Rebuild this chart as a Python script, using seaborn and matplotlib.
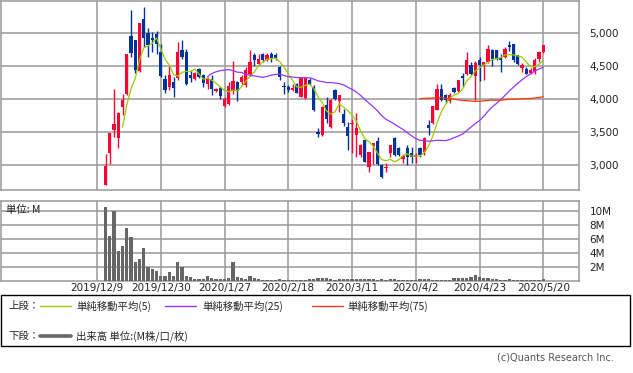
import numpy as np
import pandas as pd
import matplotlib
matplotlib.use("Agg")
import matplotlib.pyplot as plt
from matplotlib.patches import Rectangle
from matplotlib.lines import Line2D
import seaborn as sns

# ---------------- data ----------------
date_labels = ["2019/12/9", "2019/12/30", "2020/1/27", "2020/2/18",
               "2020/3/11", "2020/4/2", "2020/4/23", "2020/5/20"]
date_label_idx = [0, 15, 30, 45, 60, 75, 90, 105]
first_idx = 2  # first trading day (2019/12/11) index

opens = [2700, 3190, 3530, 3415, 3885, 4076, 4955, 4895, 4425, 5227,
         5010, 4935, 4985, 4717, 4303, 4187, 4263, 4328, 4753, 4717,
         4364, 4308, 4455, 4364, 4227, 4313, 4121, 4177, 3894, 3924,
         4121, 4263, 4263, 4212, 4389, 4667, 4540, 4682, 4601, 4682,
         4670, 4490, 4202, 4187, 4136, 4238, 4035, 4020, 4288, 4187,
         3505, 3455, 3915, 3580, 4136, 3975, 3773, 3580, 3621, 3455,
         3152, 3379, 2975, 3288, 3369, 3000, 2950, 3187, 3404, 3263,
         3086, 3252, 3187, 3127, 3252, 3202, 3616, 3641, 3844, 4162,
         4061, 3970, 4177, 4126, 4349, 4389, 4515, 4349, 4601, 4515,
         4566, 4742, 4753, 4632, 4641, 4829, 4843, 4667, 4480, 4465,
         4400, 4414, 4616, 4717]
highs = [3170, 3490, 4150, 3800, 4085, 4690, 5350, 4900, 5160, 5410,
         5085, 5020, 5045, 4845, 4365, 4500, 4340, 4870, 4905, 4760,
         4440, 4420, 4480, 4380, 4340, 4364, 4170, 4200, 4030, 4263,
         4580, 4280, 4370, 4490, 4742, 4710, 4690, 4700, 4700, 4720,
         4700, 4510, 4263, 4210, 4238, 4250, 4330, 4340, 4320, 4220,
         3556, 3900, 4030, 4000, 4150, 4070, 3850, 3656, 3707, 3788,
         3320, 3380, 3205, 3340, 3420, 3020, 3030, 3303, 3420, 3280,
         3170, 3300, 3280, 3190, 3280, 3430, 3682, 3900, 4238, 4238,
         4080, 4100, 4190, 4300, 4400, 4717, 4560, 4580, 4640, 4566,
         4830, 4770, 4753, 4690, 4790, 4890, 4843, 4680, 4550, 4490,
         4480, 4620, 4740, 4830]
lows = [2690, 3015, 3420, 3260, 3760, 4070, 4640, 4400, 4420, 4795,
        4640, 4715, 4690, 4340, 4095, 4135, 4035, 4288, 4615, 4215,
        4263, 4290, 4320, 4187, 4150, 4060, 4110, 4000, 3880, 3910,
        4086, 3970, 4210, 4190, 4350, 4500, 4520, 4560, 4580, 4560,
        4600, 4300, 4086, 4110, 4130, 4090, 4030, 4010, 4220, 3820,
        3430, 3440, 3640, 3570, 3990, 3800, 3600, 3227, 3177, 3127,
        3130, 3045, 2899, 3010, 3000, 2800, 2900, 3117, 3140, 3140,
        3030, 3000, 3030, 3030, 3130, 3160, 3455, 3630, 3830, 3970,
        3950, 3940, 4090, 4110, 4180, 4370, 4370, 3985, 4280, 4298,
        4550, 4500, 4590, 4414, 4620, 4740, 4570, 4520, 4410, 4380,
        4390, 4390, 4560, 4700]
closes = [2990, 3480, 3620, 3790, 3995, 4682, 4700, 4440, 5155, 4935,
          4830, 4895, 4845, 4350, 4147, 4364, 4177, 4717, 4641, 4227,
          4323, 4394, 4338, 4248, 4313, 4162, 4156, 4045, 4010, 4197,
          4273, 4126, 4338, 4440, 4566, 4591, 4616, 4601, 4667, 4620,
          4630, 4338, 4187, 4136, 4172, 4101, 4323, 4323, 4238, 3833,
          3465, 3880, 3700, 3995, 4010, 4061, 3641, 3440, 3646, 3570,
          3303, 3051, 3202, 3328, 3015, 2813, 2975, 3303, 3152, 3152,
          3137, 3116, 3127, 3152, 3152, 3419, 3570, 3894, 4162, 3985,
          3985, 4071, 4111, 4288, 4323, 4601, 4389, 4551, 4515, 4566,
          4768, 4616, 4616, 4601, 4768, 4793, 4591, 4540, 4515, 4389,
          4440, 4591, 4717, 4818]
volumes_m = [10.5, 6.4, 9.9, 4.2, 4.9, 7.5, 6.2, 2.6, 3.1, 4.6,
             2.0, 1.7, 1.3, 0.7, 0.6, 1.2, 0.6, 2.7, 1.9, 0.6,
             0.5, 0.25, 0.25, 0.25, 0.7, 0.4, 0.25, 0.25, 0.25, 0.4,
             2.6, 0.55, 0.4, 0.25, 0.65, 0.3, 0.15, 0.1, 0.1, 0.1,
             0.1, 0.2, 0.1, 0.1, 0.1, 0.1, 0.1, 0.1, 0.15, 0.25,
             0.4, 0.3, 0.3, 0.2, 0.1, 0.2, 0.2, 0.2, 0.25, 0.25,
             0.2, 0.2, 0.25, 0.2, 0.1, 0.2, 0.1, 0.2, 0.2, 0.1,
             0.1, 0.1, 0.1, 0.1, 0.15, 0.2, 0.2, 0.1, 0.1, 0.1,
             0.1, 0.1, 0.3, 0.3, 0.35, 0.4, 0.55, 0.75, 0.45, 0.35,
             0.35, 0.25, 0.15, 0.1, 0.1, 0.2, 0.1, 0.1, 0.1, 0.1,
             0.1, 0.1, 0.1, 0.15]
price_ticks = [3000, 3500, 4000, 4500, 5000]
vol_ticks = [2, 4, 6, 8, 10]
ma_windows = [5, 25, 75]

# ---------------- style ----------------
sns.set_style("white")
plt.rcParams['font.family'] = ['DejaVu Sans']
JP = ['Noto Sans CJK JP', 'DejaVu Sans']

RED = "#ff0033"
BLUE = "#003399"
GRID = "#999999"
MA_COLORS = ["#99cc00", "#9933ff", "#ff3300"]

W, H = 633, 373
fig = plt.figure(figsize=(W / 100, H / 100), dpi=100)
fig.patch.set_facecolor("white")

def fx(px):
    return px / W

def fy(py):
    return 1 - py / H

# axes placement in pixels
L, R = 0.8, 578.5
ax1 = fig.add_axes([fx(L), fy(190), fx(R) - fx(L), fy(0.6) - fy(190)])
ax2 = fig.add_axes([fx(L), fy(280.5), fx(R) - fx(L), fy(201) - fy(280.5)])

px_per_day = 4.25
x0_px = 97.0
xlim = ((L - x0_px) / px_per_day, (R - x0_px) / px_per_day)

df = pd.DataFrame({"open": opens, "high": highs, "low": lows,
                   "close": closes, "vol": volumes_m})
df["x"] = np.arange(len(df)) + first_idx
for w in ma_windows:
    df[f"ma{w}"] = df["close"].rolling(w).mean()

up = df["close"] >= df["open"]
colors = np.where(up, RED, BLUE)

# ---------------- main panel ----------------
ax1.vlines(df["x"], df["low"], df["high"], colors=colors, linewidth=1.0, zorder=3)
body_bottom = np.minimum(df["open"], df["close"])
body_h = np.maximum(np.abs(df["close"] - df["open"]), 16)
ax1.bar(df["x"], body_h, bottom=body_bottom, width=0.72, color=colors,
        linewidth=0, zorder=4)
for w, c in zip(ma_windows, MA_COLORS):
    d = df.dropna(subset=[f"ma{w}"])
    sns.lineplot(x=d["x"], y=d[f"ma{w}"], ax=ax1, color=c, linewidth=0.9,
                 zorder=5, legend=False)

ax1.set_xlim(*xlim)
ax1.set_ylim(2621, 5500)
ax1.set_xticks(date_label_idx)
ax1.set_xticklabels([])
ax1.set_yticks(price_ticks)
ax1.set_yticklabels([f"{v:,}" for v in price_ticks])
ax1.yaxis.tick_right()
ax1.tick_params(axis="both", length=0)
ax1.tick_params(axis="y", pad=8, labelsize=7.5, colors="#222222")
ax1.grid(True, color=GRID, linewidth=1.1)
ax1.set_axisbelow(True)
ax1.set_xlabel("")
ax1.set_ylabel("")
for s in ax1.spines.values():
    s.set_color(GRID)
    s.set_linewidth(1.1)

# ---------------- volume panel ----------------
sns.barplot(x=df["x"], y=df["vol"], ax=ax2, native_scale=True, color="#666666",
            width=0.72, errorbar=None, saturation=1, linewidth=0, zorder=3)
ax2.set_xlim(*xlim)
ax2.set_ylim(0, 11.36)
ax2.set_xticks(date_label_idx)
ax2.set_xticklabels(date_labels)
ax2.set_yticks(vol_ticks)
ax2.set_yticklabels([f"{v}M" for v in vol_ticks])
ax2.yaxis.tick_right()
ax2.tick_params(axis="both", length=0)
ax2.tick_params(axis="y", pad=8, labelsize=7.5, colors="#222222")
ax2.tick_params(axis="x", pad=2, labelsize=7.5, colors="#222222")
ax2.grid(True, color=GRID, linewidth=1.1)
ax2.set_axisbelow(True)
ax2.set_xlabel("")
ax2.set_ylabel("")
for s in ax2.spines.values():
    s.set_color(GRID)
    s.set_linewidth(1.1)
ax2.text(5 / (R - L), 0.885, "単位: M", transform=ax2.transAxes, fontsize=7.5,
         family=JP, va="center", ha="left", color="#222222", zorder=6)

# ---------------- legend box ----------------
fig.patches.append(Rectangle((fx(0.6), fy(346)), fx(630) - fx(0.6), fy(295) - fy(346),
                             transform=fig.transFigure, fill=False,
                             edgecolor="black", linewidth=1.0))
row1, row2 = 306, 336
fig.text(fx(8), fy(row1), "上段：", family=JP, fontsize=7.5, va="center", ha="left")
legend_items = [(40, 71, 76, "単純移動平均(5)"),
                (165, 196, 202, "単純移動平均(25)"),
                (312, 343, 347, "単純移動平均(75)")]
for (a, b, t, lab), c in zip(legend_items, MA_COLORS):
    fig.lines.append(Line2D([fx(a), fx(b)], [fy(row1), fy(row1)],
                            transform=fig.transFigure, color=c, linewidth=1.0))
    fig.text(fx(t), fy(row1), lab, family=JP, fontsize=7.5, va="center", ha="left")
fig.text(fx(8), fy(row2), "下段：", family=JP, fontsize=7.5, va="center", ha="left")
fig.lines.append(Line2D([fx(40), fx(71)], [fy(row2), fy(row2)],
                        transform=fig.transFigure, color="#666666", linewidth=2.6))
fig.text(fx(76), fy(row2), "出来高 単位:(M株/口/枚)", family=JP, fontsize=7.5,
         va="center", ha="left")

fig.text(fx(614), fy(358), "(c)Quants Research Inc.", fontsize=7, color="#555555",
         va="center", ha="right")

fig.savefig("out.png", dpi=100, facecolor="white")
